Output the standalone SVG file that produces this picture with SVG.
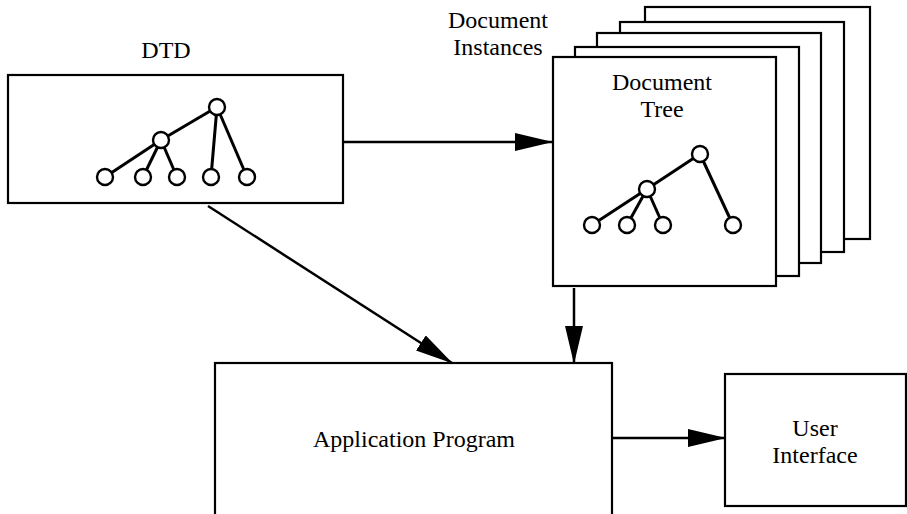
<svg xmlns="http://www.w3.org/2000/svg" width="907" height="514" viewBox="0 0 907 514">
<style>
.box{fill:#fff;stroke:#000;stroke-width:2.2}
.edge{stroke:#000;stroke-width:3;fill:none}
.nd{fill:#fff;stroke:#000;stroke-width:2.4}
.lbl{font-family:"Liberation Serif","Times New Roman",serif;font-size:24px;fill:#000;text-anchor:middle}
.conn{stroke:#000;stroke-width:2.5;fill:none}
</style>
<defs>
<marker id="ah" markerUnits="userSpaceOnUse" markerWidth="38" markerHeight="18" refX="37" refY="9" orient="auto">
<path d="M0,0 L38,9 L0,18 z" fill="#000"/>
</marker>
</defs>
<rect width="907" height="514" fill="#fff"/>

<g id="dtd">
<text class="lbl" x="166" y="58">DTD</text>
<rect class="box" x="8" y="75" width="335" height="128"/>
<g class="edge">
<line x1="217" y1="107" x2="161" y2="140"/>
<line x1="217" y1="107" x2="211" y2="177"/>
<line x1="217" y1="107" x2="247" y2="177"/>
<line x1="161" y1="140" x2="105" y2="177"/>
<line x1="161" y1="140" x2="143" y2="177"/>
<line x1="161" y1="140" x2="177" y2="177"/>
</g>
<g class="nd">
<circle cx="217" cy="107" r="8"/>
<circle cx="161" cy="140" r="8"/>
<circle cx="105" cy="177" r="8"/>
<circle cx="143" cy="177" r="8"/>
<circle cx="177" cy="177" r="8"/>
<circle cx="211" cy="177" r="8"/>
<circle cx="247" cy="177" r="8"/>
</g>
</g>

<g id="documents">
<text class="lbl" x="498" y="28">Document</text>
<text class="lbl" x="498" y="55">Instances</text>
<rect class="box" x="645" y="7" width="225" height="232"/>
<rect class="box" x="620" y="22" width="224" height="230"/>
<rect class="box" x="597" y="33" width="224" height="230"/>
<rect class="box" x="575" y="47" width="224" height="229"/>
<rect class="box" x="553" y="57" width="223" height="229"/>
<text class="lbl" x="662" y="90">Document</text>
<text class="lbl" x="662" y="117">Tree</text>
<g class="edge">
<line x1="700" y1="154" x2="647" y2="189"/>
<line x1="700" y1="154" x2="733" y2="225"/>
<line x1="647" y1="189" x2="592" y2="225"/>
<line x1="647" y1="189" x2="627" y2="225"/>
<line x1="647" y1="189" x2="663" y2="225"/>
</g>
<g class="nd">
<circle cx="700" cy="154" r="8"/>
<circle cx="647" cy="189" r="8"/>
<circle cx="592" cy="225" r="8"/>
<circle cx="627" cy="225" r="8"/>
<circle cx="663" cy="225" r="8"/>
<circle cx="733" cy="225" r="8"/>
</g>
</g>

<g id="app">
<rect class="box" x="215" y="363" width="397" height="160"/>
<text class="lbl" x="414" y="447">Application Program</text>
</g>

<g id="ui">
<rect class="box" x="725" y="374" width="181" height="132"/>
<text class="lbl" x="815" y="436">User</text>
<text class="lbl" x="815" y="463">Interface</text>
</g>

<g id="connectors">
<line class="conn" x1="343" y1="142" x2="552" y2="142" marker-end="url(#ah)"/>
<line class="conn" x1="208" y1="206" x2="452" y2="363" marker-end="url(#ah)"/>
<line class="conn" x1="574" y1="288" x2="574" y2="363" marker-end="url(#ah)"/>
<line class="conn" x1="612" y1="438" x2="725" y2="438" marker-end="url(#ah)"/>
</g>
</svg>
